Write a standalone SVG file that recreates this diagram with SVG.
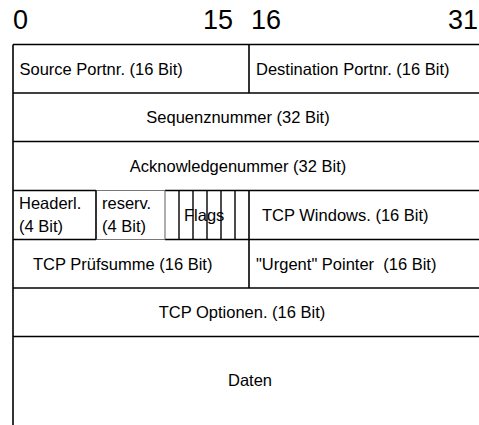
<svg xmlns="http://www.w3.org/2000/svg" width="479" height="425" viewBox="0 0 479 425">
  <style>
    text { font-family: "Liberation Sans", Arial, Helvetica, sans-serif; fill: #000; }
    .bit { font-size: 27px; }
    .lbl { font-size: 16.5px; }
    .mid { text-anchor: middle; }
    .ln { stroke: #000; stroke-width: 1.6; fill: none; }
    .thin { stroke: #000; stroke-width: 1.4; fill: none; }
    .soft { stroke: #777; stroke-width: 1.2; fill: none; }
  </style>

  <!-- bit numbering above the header -->
  <g id="bit-scale">
    <text class="bit" x="13" y="29">0</text>
    <text class="bit" x="203" y="29">15</text>
    <text class="bit" x="251" y="29">16</text>
    <text class="bit" x="448" y="29">31</text>
  </g>

  <!-- TCP header fields -->
  <g id="source-port"><text class="lbl" x="19.5" y="74.5">Source Portnr. (16 Bit)</text></g>
  <g id="dest-port"><text class="lbl" x="256" y="74.5">Destination Portnr. (16 Bit)</text></g>
  <g id="seq-number"><text class="lbl mid" x="238" y="123">Sequenznummer (32 Bit)</text></g>
  <g id="ack-number"><text class="lbl mid" x="238" y="172">Acknowledgenummer (32 Bit)</text></g>
  <g id="header-length">
    <text class="lbl" x="19" y="209">Headerl.</text>
    <text class="lbl" x="19" y="232">(4 Bit)</text>
  </g>
  <g id="reserved">
    <text class="lbl" x="102" y="209">reserv.</text>
    <text class="lbl" x="102" y="232">(4 Bit)</text>
  </g>
  <g id="flags"><text class="lbl" x="184" y="221">Flags</text></g>
  <g id="window"><text class="lbl" x="262" y="221">TCP Windows. (16 Bit)</text></g>
  <g id="checksum"><text class="lbl" x="33" y="269.5">TCP Prüfsumme (16 Bit)</text></g>
  <g id="urgent-pointer"><text class="lbl" x="256" y="269.5" xml:space="preserve">"Urgent" Pointer  (16 Bit)</text></g>
  <g id="options"><text class="lbl mid" x="242" y="318">TCP Optionen. (16 Bit)</text></g>
  <g id="data"><text class="lbl mid" x="250" y="386">Daten</text></g>

  <!-- table grid -->
  <g id="grid">
    <!-- left edge, open at the bottom -->
    <line class="ln" x1="13" y1="44.5" x2="13" y2="425"/>
    <!-- row separators -->
    <line class="ln" x1="13" y1="44.5" x2="479" y2="44.5"/>
    <line class="ln" x1="13" y1="93" x2="479" y2="93"/>
    <line class="ln" x1="13" y1="141.5" x2="479" y2="141.5"/>
    <line class="ln" x1="13" y1="190.5" x2="96" y2="190.5"/>
    <line class="soft" x1="96" y1="190.5" x2="165" y2="190.5"/>
    <line class="ln" x1="165" y1="190.5" x2="479" y2="190.5"/>
    <line class="ln" x1="13" y1="239.5" x2="96" y2="239.5"/>
    <line class="soft" x1="96" y1="239.5" x2="165" y2="239.5"/>
    <line class="ln" x1="165" y1="239.5" x2="479" y2="239.5"/>
    <line class="ln" x1="13" y1="288" x2="479" y2="288"/>
    <line class="ln" x1="13" y1="336.5" x2="479" y2="336.5"/>
    <!-- 16-bit divider -->
    <line class="ln" x1="249" y1="44.5" x2="249" y2="93"/>
    <line class="ln" x1="249" y1="190.5" x2="249" y2="288"/>
    <!-- header length / reserved / flag cells -->
    <line class="ln" x1="96" y1="190.5" x2="96" y2="239.5"/>
    <line class="soft" x1="165" y1="190.5" x2="165" y2="239.5"/>
    <line class="thin" x1="179" y1="190.5" x2="179" y2="239.5"/>
    <line class="thin" x1="193" y1="190.5" x2="193" y2="239.5"/>
    <line class="thin" x1="207" y1="190.5" x2="207" y2="239.5"/>
    <line class="thin" x1="221" y1="190.5" x2="221" y2="239.5"/>
    <line class="thin" x1="235" y1="190.5" x2="235" y2="239.5"/>
  </g>
</svg>
